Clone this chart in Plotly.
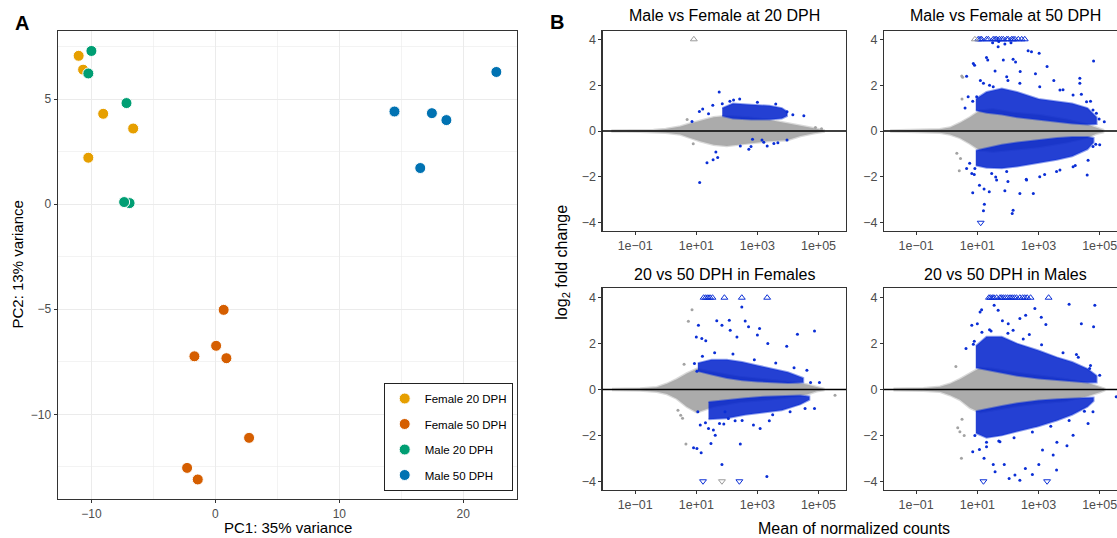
import numpy as np
import plotly.graph_objects as go

FONT = "Liberation Sans, Arial, Helvetica, sans-serif"
W, H = 1117, 538

# ---------------- Panel A: PCA ----------------
groups = ["Female 20 DPH", "Female 50 DPH", "Male 20 DPH", "Male 50 DPH"]
group_colors = ["#E69F00", "#D55E00", "#009E73", "#0072B2"]
f20_pc1 = [-11.03, -10.67, -9.05, -6.63, -10.25]
f20_pc2 = [7.06, 6.40, 4.30, 3.60, 2.21]
f50_pc1 = [0.67, 0.06, -1.69, 0.89, 2.72, -2.28, -1.42]
f50_pc2 = [-5.03, -6.74, -7.24, -7.33, -11.12, -12.55, -13.10]
m20_pc1 = [-10.0, -10.25, -7.17, -6.92, -7.36]
m20_pc2 = [7.29, 6.22, 4.81, 0.05, 0.10]
m50_pc1 = [14.45, 17.47, 18.64, 16.53, 22.67]
m50_pc2 = [4.41, 4.33, 4.00, 1.72, 6.29]

# ---------------- Panel B: MA plots (x = log10 mean of normalized counts, y = log2 fold change) ----------------
ma_titles = ["Male vs Female at 20 DPH", "Male vs Female at 50 DPH",
             "20 vs 50 DPH in Females", "20 vs 50 DPH in Males"]
x_tick_vals = [0.1, 10, 1000, 100000]
x_tick_text = ["1e\u221201", "1e+01", "1e+03", "1e+05"]
y_tick_vals = [-4, -2, 0, 2, 4]

# Top-left: Male vs Female at 20 DPH
tl_gray_x = [-1.78, -1.3, -0.84, -0.4, 0.0, 0.48, 0.8, 1.13, 1.57, 2.0, 2.66, 3.32, 3.97, 4.41, 4.85, 5.17]
tl_gray_hi = [0.02, 0.025, 0.03, 0.05, 0.09, 0.2, 0.33, 0.45, 0.6, 0.65, 0.6, 0.5, 0.35, 0.22, 0.12, 0.03]
tl_gray_lo = [-0.02, -0.025, -0.03, -0.05, -0.08, -0.15, -0.3, -0.45, -0.6, -0.65, -0.55, -0.45, -0.4, -0.22, -0.1, -0.03]
tl_up_x = [1.85, 2.2, 2.8, 3.4, 3.8, 3.97]
tl_up_hi = [1.0, 1.2, 1.15, 1.1, 1.0, 0.85]
tl_up_lo = [0.65, 0.55, 0.5, 0.5, 0.55, 0.65]
tl_dn_x, tl_dn_hi, tl_dn_lo = [], [], []
tl_blue_x = [0.86, 1.21, 1.54, 1.75, 1.85, 2.22, 2.42, 1.1, 1.4, 3.97, 4.16, 4.52, 2.44, 2.72, 2.79, 3.15,
             3.21, 3.32, 3.54, 3.67, 3.97, 2.84, 1.64, 1.70, 1.55, 1.35, 1.11, 2.1, 3.0, 3.6]
tl_blue_y = [0.41, 0.96, 1.12, 1.70, 1.19, 1.35, 1.40, 0.85, 0.75, 0.84, 0.71, 0.67, -0.65, -0.79, -0.68, -0.39,
             -0.49, -0.65, -0.54, -0.51, -0.39, -0.36, -0.92, -1.16, -1.25, -1.38, -2.24, 1.3, 1.25, 1.18]
tl_gpt_x = [4.9, 5.1, 0.7, 0.9]
tl_gpt_y = [0.15, 0.1, 0.5, -0.55]
tl_tri_up_blue = []
tl_tri_up_gray = [0.92]
tl_tri_dn_blue = []
tl_tri_dn_gray = []

# Top-right: Male vs Female at 50 DPH
tr_gray_x = [-1.85, -1.3, -0.76, -0.22, 0.11, 0.43, 0.76, 1.09, 1.52, 2.17, 3.04, 3.91, 4.57, 4.89, 5.11]
tr_gray_hi = [0.02, 0.03, 0.04, 0.08, 0.15, 0.35, 0.6, 0.9, 0.95, 0.8, 0.7, 0.5, 0.3, 0.15, 0.05]
tr_gray_lo = [-0.02, -0.03, -0.04, -0.08, -0.15, -0.3, -0.55, -0.85, -0.9, -0.8, -0.7, -0.5, -0.3, -0.12, -0.05]
tr_up_x = [0.95, 1.3, 1.8, 2.3, 3.0, 3.6, 4.1, 4.6, 4.9]
tr_up_hi = [1.4, 1.7, 1.85, 1.7, 1.4, 1.3, 1.2, 1.0, 0.6]
tr_up_lo = [0.9, 0.8, 0.72, 0.6, 0.48, 0.4, 0.33, 0.28, 0.3]
tr_dn_x = [0.95, 1.3, 1.8, 2.3, 3.0, 3.6, 4.1, 4.6, 4.8]
tr_dn_hi = [-0.85, -0.75, -0.6, -0.5, -0.38, -0.3, -0.26, -0.26, -0.3]
tr_dn_lo = [-1.5, -1.6, -1.62, -1.55, -1.4, -1.25, -1.1, -0.8, -0.5]
tr_blue_x = [0.87, 0.91, 1.30, 1.34, 1.68, 1.85, 2.17, 2.25, 2.66, 2.77, 3.02, 3.28, 4.35, 4.80, 0.65, 1.58,
             1.96, 2.4, 1.1, 1.4, 2.0, 2.9, 3.5, 3.8, 4.4, 0.7, 0.85, 0.6, 4.7, 4.98, 4.89, 5.15, 1.5, 1.7,
             1.9, 2.1, 0.85, 1.07, 1.22, 1.39, 1.23, 1.20, 2.17, 2.14, 2.39, 2.83, 4.59, 4.87, 0.65, 0.75,
             1.6, 2.0, 2.6, 3.2, 3.7, 4.2, 5.0, 0.9, 1.9,
             0.82, 0.92, 1.47, 1.63, 1.96, 2.61, 3.04, 3.59, 4.13, 4.62, 4.78,
             0.98, 1.20, 1.52, 2.39, 3.04, 3.70, 4.13, 4.57, 4.78, 4.35]
tr_blue_y = [2.95, 2.87, 3.21, 3.10, 3.68, 3.10, 3.13, 3.01, 3.50, 3.46, 3.39, 2.81, 2.30, 3.05, 2.39, 2.62,
             2.37, 2.60, 2.20, 2.00, 2.20, 2.50, 2.20, 1.80, 1.60, 1.50, 1.30, 1.00, 1.30, 0.52, 0.77, 0.40,
             3.85, 3.90, 3.80, 3.85, -2.69, -2.36, -2.53, -2.65, -3.19, -3.48, -3.45, -3.60, -2.72, -2.72,
             -1.92, -0.58, -1.63, -1.40, -2.00, -2.20, -2.10, -1.90, -1.70, -1.50, -0.60, -1.90, -2.60,
             -1.85, -1.63, -1.85, -2.14, -1.77, -2.14, -1.99, -1.77, -1.56, -1.27, -0.68,
             1.50, 2.08, 1.93, 2.08, 1.93, 1.79, 1.57, 1.28, 0.92, 2.08]
tr_gpt_x = [0.49, 0.52, 0.41, 0.33, 0.5, 0.45]
tr_gpt_y = [2.40, 2.35, -1.73, -0.97, 1.40, -1.20]
tr_tri_up_blue = [1.03, 1.09, 1.14, 1.30, 1.36, 1.52, 1.58, 1.63, 1.72, 1.79, 1.85, 1.96, 2.01, 2.12, 2.17,
                  2.23, 2.34, 2.45, 2.55]
tr_tri_up_gray = [0.92]
tr_tri_dn_blue = [1.11]
tr_tri_dn_gray = []

# Bottom-left: 20 vs 50 DPH in Females
bl_gray_x = [-1.76, -1.3, -0.84, -0.29, 0.04, 0.36, 0.69, 1.02, 1.56, 2.43, 3.31, 4.18, 4.62, 4.94, 5.16]
bl_gray_hi = [0.02, 0.03, 0.04, 0.1, 0.25, 0.45, 0.7, 0.9, 0.75, 0.55, 0.45, 0.32, 0.22, 0.1, 0.03]
bl_gray_lo = [-0.02, -0.03, -0.04, -0.1, -0.2, -0.4, -0.75, -1.0, -0.75, -0.55, -0.45, -0.32, -0.22, -0.08, -0.03]
bl_up_x = [1.05, 1.5, 2.0, 2.5, 3.0, 3.5, 4.0, 4.5]
bl_up_hi = [1.15, 1.3, 1.3, 1.2, 1.05, 0.9, 0.75, 0.5]
bl_up_lo = [0.8, 0.65, 0.5, 0.4, 0.35, 0.3, 0.28, 0.3]
bl_dn_x = [1.4, 2.0, 2.6, 3.2, 3.8, 4.4, 4.7]
bl_dn_hi = [-0.55, -0.45, -0.38, -0.32, -0.3, -0.26, -0.3]
bl_dn_lo = [-1.3, -1.25, -1.1, -1.0, -0.9, -0.65, -0.45]
bl_blue_x = [1.07, 1.18, 1.0, 1.31, 1.67, 1.84, 2.08, 2.11, 2.33, 2.49, 2.60, 2.71, 3.0, 3.07, 3.34, 3.96,
             4.31, 4.87, 4.62, 4.74, 5.03, 0.94, 1.02, 1.05, 1.13, 1.40, 1.56, 1.62, 1.76, 1.02, 0.91, 1.16,
             1.48, 2.44, 1.84, 3.31, 3.09, 3.39, 4.07, 4.56, 4.87, 1.94, 2.05, 2.27, 2.87,
             1.2, 1.6, 2.2, 2.9, 3.6, 4.2, 1.3, 1.9, 2.5, 3.5]
bl_blue_y = [2.80, 2.22, 2.29, 2.12, 3.00, 2.80, 3.02, 2.58, 2.29, 3.60, 2.98, 2.73, 2.37, 2.66, 2.00, 1.89,
             2.41, 2.55, 0.84, 0.30, 0.30, 1.13, 0.80, -0.97, -1.55, -1.70, -1.77, -1.99, -1.48, -2.57, -2.54,
             -2.76, -2.35, -2.37, -3.27, -3.79, -1.70, -1.36, -0.97, -0.83, -0.83, -0.97, -1.26, -1.36, -1.55,
             1.45, 1.60, 1.55, 1.30, 1.15, 0.95, -1.45, -1.50, -1.35, -1.10]
bl_gpt_x = [0.86, 0.74, 0.66, 0.49, 0.55, 5.54, 0.6, 0.4]
bl_gpt_y = [3.48, 2.97, -2.38, -1.12, -1.25, -0.25, 1.1, -0.9]
bl_tri_up_blue = [1.24, 1.31, 1.38, 1.45, 1.53, 1.92, 2.49, 3.32]
bl_tri_up_gray = []
bl_tri_dn_blue = [1.22, 2.41]
bl_tri_dn_gray = [1.84]

# Bottom-right: 20 vs 50 DPH in Males
br_gray_x = [-1.74, -1.3, -0.76, -0.22, 0.11, 0.43, 0.76, 1.09, 1.52, 2.17, 3.04, 3.91, 4.57, 5.0, 5.15]
br_gray_hi = [0.03, 0.04, 0.05, 0.12, 0.25, 0.45, 0.7, 0.95, 0.9, 0.75, 0.6, 0.45, 0.3, 0.12, 0.04]
br_gray_lo = [-0.03, -0.04, -0.05, -0.1, -0.25, -0.45, -0.8, -1.0, -0.9, -0.75, -0.6, -0.5, -0.3, -0.12, -0.04]
br_up_x = [0.95, 1.3, 1.8, 2.3, 3.0, 3.6, 4.1, 4.6, 4.9]
br_up_hi = [1.9, 2.3, 2.3, 2.0, 1.7, 1.4, 1.2, 0.9, 0.6]
br_up_lo = [0.95, 0.85, 0.72, 0.6, 0.48, 0.4, 0.35, 0.3, 0.3]
br_dn_x = [0.95, 1.3, 1.8, 2.3, 3.0, 3.6, 4.1, 4.6, 4.8]
br_dn_hi = [-0.95, -0.85, -0.72, -0.6, -0.48, -0.42, -0.38, -0.35, -0.35]
br_dn_lo = [-1.9, -2.1, -2.0, -1.85, -1.6, -1.35, -1.1, -0.75, -0.5]
br_blue_x = [1.0, 1.09, 1.14, 1.55, 1.68, 1.82, 2.01, 2.17, 2.39, 2.58, 2.88, 3.09, 3.24, 4.0, 4.4, 4.84,
             4.80, 4.24, 4.67, 5.0, 0.87, 0.63, 0.82, 0.85, 1.07, 1.30, 1.52, 1.58, 1.88, 2.04, 2.23, 2.39,
             2.57, 2.80, 3.01, 3.59, 3.13, 3.48, 3.93, 4.13, 4.62, 4.78, 1.22, 1.74, 5.54, 1.4, 2.7, 3.6,
             0.9, 1.15, 1.45, 2.0, 2.5, 3.1, 3.8, 4.3, 4.7, 0.92, 1.3, 1.7, 2.2, 2.8, 3.4, 4.0, 4.5]
br_blue_y = [2.87, 3.38, 3.48, 3.67, 3.45, 3.00, 2.87, 2.58, 3.09, 3.24, 3.53, 3.15, 2.83, 3.72, 2.87, 3.67,
             2.73, 1.52, 0.91, 0.62, 1.97, 1.79, 2.80, -2.71, -2.61, -2.50, -3.27, -3.58, -3.27, -3.88,
             -3.73, -3.95, -3.44, -3.70, -3.27, -3.51, -2.64, -2.86, -2.45, -1.99, -1.48, -0.97, -3.00,
             -2.28, -0.32, 2.6, 2.4, -2.3,
             2.1, 2.5, 2.55, 2.45, 2.2, 1.95, 1.6, 1.4, 1.05, -2.0, -2.3, -2.25, -2.1, -1.85, -1.6, -1.35, -0.95]
br_gpt_x = [0.36, 0.43, 0.48, 0.57, 0.3, 0.5]
br_gpt_y = [-1.67, -1.84, -3.00, -2.00, 1.00, -1.30]
br_tri_up_blue = [1.38, 1.43, 1.49, 1.54, 1.63, 1.74, 1.79, 1.85, 1.92, 1.99, 2.07, 2.14, 2.21, 2.28, 2.39,
                  2.48, 2.55, 2.63, 2.74, 3.33]
br_tri_up_gray = []
br_tri_dn_blue = [1.20, 3.28]
br_tri_dn_gray = []

# ---------------- Styling constants ----------------
GRAY_FILL = "#ABABAB"
GRAY_PT = "#A3A3A3"
BLUE = "#0A2ED6"
BLUE_FILL = "rgba(6,38,205,0.88)"
AXIS_LINE = "#333333"
TICK_FONT = "#4D4D4D"

fig = go.Figure()

# PCA traces
for name, col, xs, ys in zip(groups, group_colors,
                             [f20_pc1, f50_pc1, m20_pc1, m50_pc1],
                             [f20_pc2, f50_pc2, m20_pc2, m50_pc2]):
    fig.add_trace(go.Scatter(
        x=xs, y=ys, mode="markers", name=name, legendgroup=name,
        marker=dict(color=col, size=11, line=dict(color="white", width=1)),
        xaxis="x", yaxis="y", hoverinfo="skip"))


def poly(xs, hi, lo):
    px = list(xs) + list(xs)[::-1]
    py = list(hi) + list(lo)[::-1]
    return np.power(10.0, px), py


def add_ma(xa, ya, gx, ghi, glo, ux, uhi, ulo, dx, dhi, dlo, bx, by, gpx, gpy,
           tub, tug, tdb, tdg):
    common = dict(xaxis=xa, yaxis=ya, showlegend=False, hoverinfo="skip")
    px, py = poly(gx, ghi, glo)
    fig.add_trace(go.Scatter(x=px, y=py, mode="lines", fill="toself", fillcolor=GRAY_FILL,
                             line=dict(width=2.5, color="rgba(171,171,171,0.45)"), **common))
    if gpx:
        fig.add_trace(go.Scatter(x=np.power(10.0, gpx), y=gpy, mode="markers",
                                 marker=dict(color=GRAY_PT, size=3), **common))
    for bxs, bh, bl in ((ux, uhi, ulo), (dx, dhi, dlo)):
        if bxs:
            px, py = poly(bxs, bh, bl)
            fig.add_trace(go.Scatter(x=px, y=py, mode="lines", fill="toself", fillcolor=BLUE_FILL,
                                     line=dict(width=2, color="rgba(10,46,214,0.45)"), **common))
    fig.add_trace(go.Scatter(x=np.power(10.0, bx), y=by, mode="markers",
                             marker=dict(color=BLUE, size=3), **common))
    for vals, sym, col, yv in ((tub, "triangle-up-open", BLUE, 4.0), (tug, "triangle-up-open", "#9A9A9A", 4.0),
                               (tdb, "triangle-down-open", BLUE, -4.0), (tdg, "triangle-down-open", "#9A9A9A", -4.0)):
        if vals:
            fig.add_trace(go.Scatter(x=np.power(10.0, vals), y=[yv] * len(vals), mode="markers",
                                     marker=dict(symbol=sym, color=col, size=6, line=dict(width=1, color=col)),
                                     **common))


add_ma("x2", "y2", tl_gray_x, tl_gray_hi, tl_gray_lo, tl_up_x, tl_up_hi, tl_up_lo, tl_dn_x, tl_dn_hi, tl_dn_lo,
       tl_blue_x, tl_blue_y, tl_gpt_x, tl_gpt_y, tl_tri_up_blue, tl_tri_up_gray, tl_tri_dn_blue, tl_tri_dn_gray)
add_ma("x3", "y3", tr_gray_x, tr_gray_hi, tr_gray_lo, tr_up_x, tr_up_hi, tr_up_lo, tr_dn_x, tr_dn_hi, tr_dn_lo,
       tr_blue_x, tr_blue_y, tr_gpt_x, tr_gpt_y, tr_tri_up_blue, tr_tri_up_gray, tr_tri_dn_blue, tr_tri_dn_gray)
add_ma("x4", "y4", bl_gray_x, bl_gray_hi, bl_gray_lo, bl_up_x, bl_up_hi, bl_up_lo, bl_dn_x, bl_dn_hi, bl_dn_lo,
       bl_blue_x, bl_blue_y, bl_gpt_x, bl_gpt_y, bl_tri_up_blue, bl_tri_up_gray, bl_tri_dn_blue, bl_tri_dn_gray)
add_ma("x5", "y5", br_gray_x, br_gray_hi, br_gray_lo, br_up_x, br_up_hi, br_up_lo, br_dn_x, br_dn_hi, br_dn_lo,
       br_blue_x, br_blue_y, br_gpt_x, br_gpt_y, br_tri_up_blue, br_tri_up_gray, br_tri_dn_blue, br_tri_dn_gray)


def px2x(p):
    return p / W


def px2y(p):
    return 1 - p / H


# Domains (pixel based)
xA = [px2x(57.7), px2x(517.3)]
yA = [px2y(499), px2y(31)]
xL = [px2x(602.5), px2x(846)]
xR = [px2x(884), 1.0]
yT = [px2y(231), px2y(30.7)]
yB = [px2y(490), px2y(288.3)]

pca_axis = dict(showline=True, mirror=True, linecolor=AXIS_LINE, linewidth=1.1,
                ticks="outside", ticklen=3, tickcolor=AXIS_LINE, tickwidth=1,
                tickfont=dict(size=12, color=TICK_FONT, family=FONT),
                showgrid=True, gridcolor="#EBEBEB", gridwidth=1.1, zeroline=False,
                minor=dict(showgrid=True, gridcolor="#EBEBEB", gridwidth=0.6, ticks=""))
ma_axis = dict(showline=True, mirror=True, linecolor=AXIS_LINE, linewidth=1.1,
               ticks="outside", ticklen=3, tickcolor=AXIS_LINE, tickwidth=1,
               tickfont=dict(size=12.5, color=TICK_FONT, family=FONT),
               showgrid=False, zeroline=False, ticklabeloverflow="allow")

layout_axes = dict(
    xaxis=dict(domain=xA, anchor="y", range=[-12.72, 24.36], tick0=0, dtick=10,
               minor_dtick=5, **pca_axis),
    yaxis=dict(domain=yA, anchor="x", range=[-14.03, 8.24], tick0=0, dtick=5,
               minor_dtick=2.5, **pca_axis),
)
ma_specs = [("x2", "y2", xL, yT, [-2.07, 5.9], [-4.36, 4.375]),
            ("x3", "y3", xR, yT, [-2.05, 5.565], [-4.36, 4.375]),
            ("x4", "y4", xL, yB, [-2.07, 5.9], [-4.38, 4.41]),
            ("x5", "y5", xR, yB, [-2.05, 5.565], [-4.38, 4.41])]
for xa, ya, xd, yd, xr, yr in ma_specs:
    layout_axes["xaxis" + xa[1:]] = dict(domain=xd, anchor=ya, type="log", range=xr,
                                         tickvals=x_tick_vals, ticktext=x_tick_text, **ma_axis)
    layout_axes["yaxis" + ya[1:]] = dict(domain=yd, anchor=xa, range=yr, tickvals=y_tick_vals, **ma_axis)

fig.update_layout(
    width=W, height=H, autosize=False,
    margin=dict(l=0, r=0, t=0, b=0),
    paper_bgcolor="white", plot_bgcolor="white",
    font=dict(family=FONT, color="black"),
    legend=dict(x=px2x(512.7), xanchor="right", y=px2y(491), yanchor="bottom",
                bordercolor="#222222", borderwidth=1, bgcolor="white",
                font=dict(size=11.5, family=FONT, color="black"),
                tracegroupgap=6.5, itemwidth=30),
    **layout_axes)

# zero lines for MA panels
for xa, ya, *_ in ma_specs:
    fig.add_shape(type="line", xref=xa + " domain", yref=ya, x0=0, x1=1, y0=0, y1=0,
                  line=dict(color="black", width=1.3), layer="above")

ann = []


def add_text(text, x, y, size, angle=0, bold=False):
    t = f"<b>{text}</b>" if bold else text
    ann.append(dict(text=t, x=px2x(x), y=px2y(y), xref="paper", yref="paper",
                    xanchor="center", yanchor="middle", showarrow=False, textangle=angle,
                    font=dict(size=size, family=FONT, color="black")))


add_text("A", 21.5, 23.5, 20, bold=True)
add_text("B", 556.7, 21.5, 20, bold=True)
add_text("PC1: 35% variance", 287.5, 527.5, 15)
add_text("PC2: 13% variance", 16.5, 265, 15, angle=-90)
add_text(ma_titles[0], 724.3, 16, 16)
add_text(ma_titles[1], 1005.5, 16, 16)
add_text(ma_titles[2], 724.3, 274.5, 16)
add_text(ma_titles[3], 1005.5, 274.5, 16)
add_text("Mean of normalized counts", 854, 528.5, 16)
add_text("log<sub>2</sub> fold change", 561.7, 262, 16, angle=-90)
fig.update_layout(annotations=ann)

fig.write_html("out.html", config={"displayModeBar": False, "staticPlot": True},
               post_script="document.body.style.margin='0px';document.body.style.overflow='hidden';")
